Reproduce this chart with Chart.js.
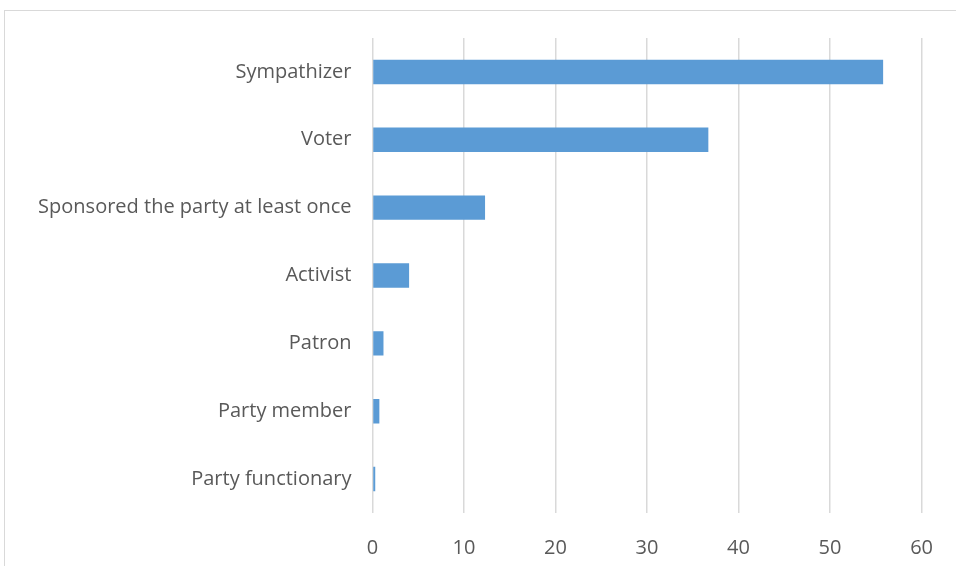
<!DOCTYPE html>
<html>
<head>
<meta charset="utf-8">
<script src="https://cdn.jsdelivr.net/npm/chart.js@4"></script>
<style>
  html, body { margin: 0; padding: 0; background: #fff; overflow: hidden; }
  #wrap { position: relative; width: 956px; height: 566px; }
  #frame { position: absolute; left: 4px; top: 10px; width: 1000px; height: 600px; border: 1.5px solid #d9d9d9; box-sizing: border-box; }
  canvas { position: absolute; left: 0; top: 0; }
</style>
</head>
<body>
<div id="wrap">
  <div id="frame"></div>
  <canvas id="chart" width="956" height="566"></canvas>
</div>
<script>
const categories = ['Sympathizer', 'Voter', 'Sponsored the party at least once', 'Activist', 'Patron', 'Party member', 'Party functionary'];
const shares = [55.8, 36.7, 12.3, 4.0, 1.2, 0.75, 0.3];
const xTicks = [0, 10, 20, 30, 40, 50, 60];

const labelFont = { family: 'Open Sans', size: 20 };

new Chart(document.getElementById('chart'), {
  type: 'bar',
  data: {
    labels: categories,
    datasets: [{
      data: shares,
      backgroundColor: '#5b9bd5',
      borderWidth: 0,
      barPercentage: 0.6,
      categoryPercentage: 0.6,
    }],
  },
  options: {
    indexAxis: 'y',
    responsive: false,
    animation: false,
    layout: { padding: { top: 38, right: 33, left: 0, bottom: 0 } },
    plugins: { legend: { display: false }, tooltip: { enabled: false } },
    scales: {
      x: {
        min: 0,
        max: 60,
        afterBuildTicks: (scale) => { scale.ticks = xTicks.map(v => ({ value: v })); },
        afterFit: (scale) => { scale.height = 53; },
        grid: { color: '#d9d9d9', lineWidth: 1.5, drawTicks: false },
        border: { display: false },
        ticks: { color: '#595959', font: labelFont, padding: 23 },
      },
      y: {
        afterFit: (scale) => { scale.width = 372.5; },
        grid: { display: false, drawTicks: false },
        border: { display: false },
        ticks: { color: '#595959', font: labelFont, padding: 21 },
      },
    },
  },
});
</script>
</body>
</html>
